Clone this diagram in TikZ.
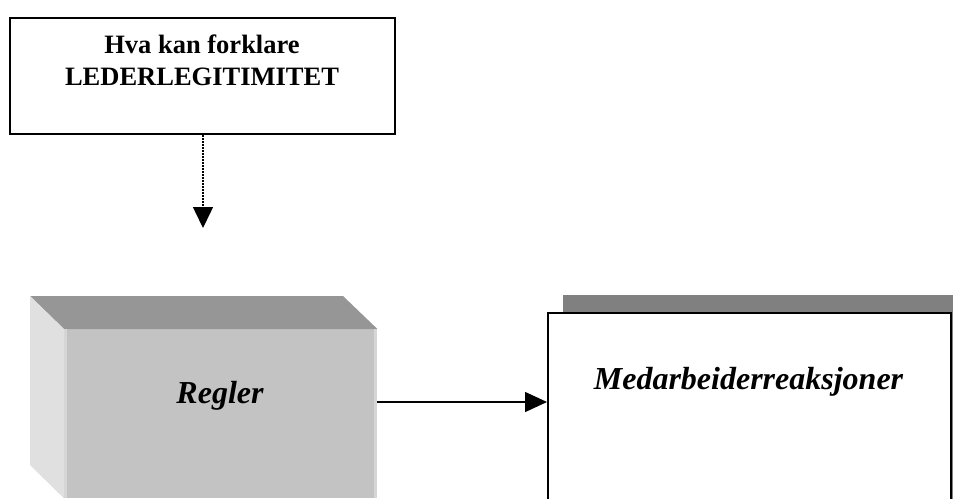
\documentclass[tikz,border=0pt]{standalone}
\usepackage{fontspec}
\setmainfont{Liberation Serif}
\usetikzlibrary{arrows.meta}
\definecolor{boxtop}{HTML}{969696}
\definecolor{boxfront}{HTML}{C3C3C3}
\definecolor{boxside}{HTML}{E0E0E0}
\definecolor{boxedge}{HTML}{D6D6D6}
\definecolor{shadowgray}{HTML}{808080}
\tikzset{
  frame/.style={draw=black, line width=2pt, fill=white, inner sep=0pt},
  label/.style={inner sep=0pt, anchor=base},
  headtext/.style={font=\fontsize{26.5}{32}\selectfont\bfseries},
  boxtext/.style={font=\fontsize{32}{38}\selectfont\bfseries\itshape},
  link/.style={line width=1.5pt, -{Triangle[length=22pt,width=20pt]}},
  dottedlink/.style={line width=1.5pt, dash pattern=on 1.5pt off 1.5pt,
    -{Triangle[length=21pt,width=20pt]}}
}
\begin{document}
\begin{tikzpicture}[x=1pt,y=-1pt]
\useasboundingbox (0,0) rectangle (953,498);
\clip (0,0) rectangle (953,498);

% question box at the top
\node[frame, anchor=north west, minimum width=385pt, minimum height=116pt] (q) at (9,17) {};
\node[label, headtext] (qtext) at (202,53)
  {\begin{tabular}[t]{@{}c@{}}Hva kan forklare\\LEDERLEGITIMITET\end{tabular}};
\coordinate (qend) at (203,228);
\draw[dottedlink] (q.south -| qend) -- (qend);

% 3D block "Regler"
\node[fill=boxfront, inner sep=0pt, anchor=north west,
      minimum width=313pt, minimum height=169pt] (regler) at (64,329) {};
\fill[boxtop] (regler.north west) -- ++(-34,-33) -- ++(313,0)
  -- (regler.north east) -- cycle;
\fill[boxside] (regler.north west) -- ++(-34,-33) -- ++(0,169)
  -- (regler.south west) -- cycle;
\fill[boxedge] (regler.north west) rectangle ++(3,169);
\fill[boxedge] (regler.north east) rectangle ++(-3,169);
\node[label, boxtext] (reglertxt) at (220,403) {Regler};

% shadowed box "Medarbeiderreaksjoner"
\fill[shadowgray] (563,295) rectangle ++(403,220);
\node[frame, anchor=north west, minimum width=403pt, minimum height=220pt] (med) at (547,312) {};
\node[label, boxtext] (medtxt) at (748.5,389) {Medarbeiderreaksjoner};

\coordinate (lk) at (0,402);
\draw[link] (regler.east |- lk) -- (med.west |- lk);
\end{tikzpicture}
\end{document}
